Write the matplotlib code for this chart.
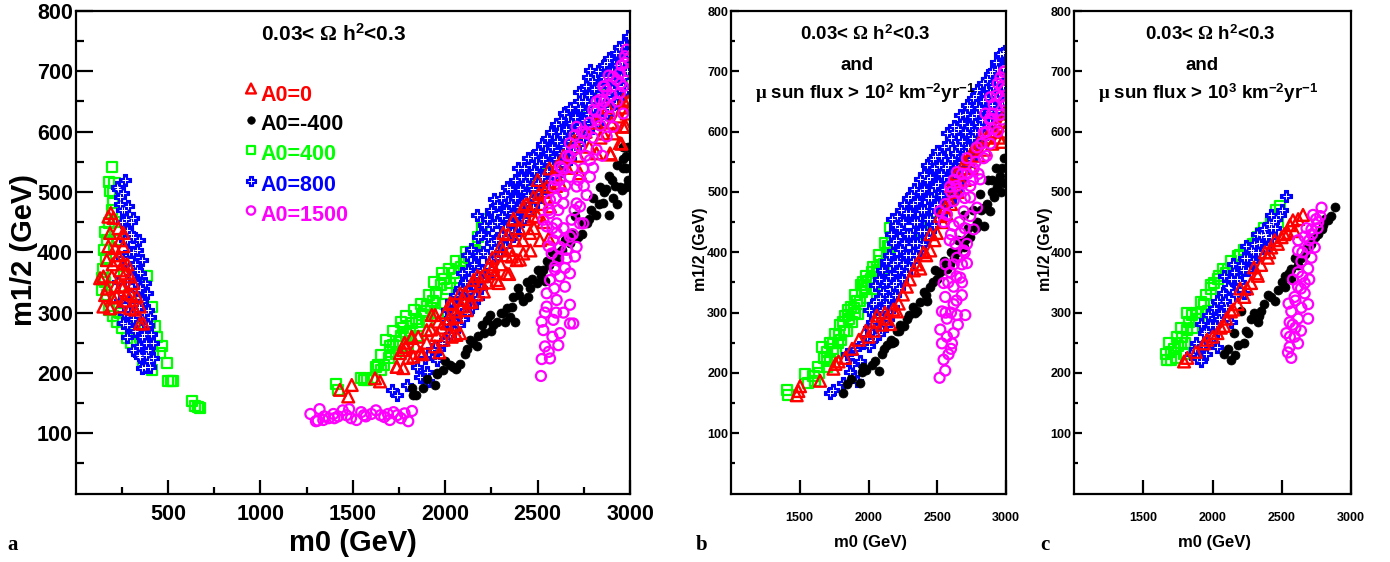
import matplotlib
matplotlib.use("Agg")
import matplotlib.pyplot as plt

plt.rcParams['font.family'] = ['Liberation Sans', 'DejaVu Sans']
plt.rcParams['font.weight'] = 'bold'
plt.rcParams['mathtext.fontset'] = 'custom'
plt.rcParams['mathtext.rm'] = 'Liberation Serif'
plt.rcParams['mathtext.it'] = 'Liberation Serif:italic'
plt.rcParams['mathtext.bf'] = 'Liberation Sans:bold'

# ---------------- data: (m0, m1/2) in GeV ----------------
series_labels = ["A0=0", "A0=-400", "A0=400", "A0=800", "A0=1500"]

a_green = [(195,541),(182,517),(186,501),(204,481),(195,470),(178,448),(159,434),(170,420),(153,404),(165,390),
           (141,357),(141,338),(150,372),(160,350),(170,330),(180,305),(200,295),(222,285),(240,300),(250,275),
           (276,258),(300,250),(330,238),(366,216),(411,205),(465,244),(456,233),(492,216),(384,360),(411,310),
           (402,282),(438,260),(429,277),(420,232),(395,225),(350,260),(320,275),(290,330),(260,360),(230,420),
           (215,450),(200,500),(210,515),(502,187),(515,187),(525,187),(628,154),(644,145),(660,143),(674,142),
           (1407,181),(1418,172),(1544,192),(1560,188),(1579,189),(1602,192),(1625,210),(1636,213),(1655,205),
           (1670,213),(1693,225),(1682,255),(1700,245),(1716,246),(1735,232),(1750,252),(1760,262),(1774,275),
           (1790,265),(1808,269),(1820,282),(1842,290),(1860,285),(1877,296),(1890,303),(1900,311),(1922,308),
           (1935,320),(1950,332),(1991,355),(1975,345),(2010,340),(2026,349),(2045,365),(2060,358),(2083,376),
           (2100,385),(2129,391),(2150,400),(2163,403),(2175,426),(2200,440),(2230,455),(2368,503),(2420,510),
           (2495,525),(2541,548),(2600,565),(2657,592),(2720,618),(2780,632),(2850,660),(2920,690),(2982,714),
           (2986,722),(2970,700),(2954,681),(2990,650),(1800,245),(1850,262),(1900,285),(1960,300),(2000,315),
           (1650,230),(1700,235),(1720,270),(1760,285),(1790,295),(1830,305),(1870,315),(1910,330),(1940,350),
           (1980,365),(2020,372),(2060,385),(2110,400)]

a_blue = [(222,509),(240,492),(258,498),(285,476),(312,457),(276,437),(312,426),(330,404),(357,387),(348,365),
          (375,349),(384,332),(393,304),(402,293),(258,282),(276,260),(312,238),(348,227),(393,238),(420,249),
          (357,208),(402,210),(294,376),(330,338),(250,470),(300,450),(265,420),(290,400),(250,390),(320,380),
          (340,310),(360,290),(300,300),(320,270),(370,265),(380,250),(410,265),(345,245),(240,320),(230,350),
          (280,350),(360,320),(395,220),(375,210),(265,520),(230,505),(300,430),(340,420),(270,455),
          (250,450),(280,420),(310,400),(330,370),(350,340),(370,300),(390,280),(360,260),(340,230),(310,290),
          (290,320),(260,300),(280,280),(380,230),(420,225),(300,360),(320,350),(240,480),(260,470),
          (1710,172),(1737,164),(1795,180),(1845,210),(1900,202),(1908,186),(1863,194),(1954,222),(1930,240),
          (1968,240),(1980,249),(1890,225),
          (2000,255),(2005,285),(2010,305),(2045,270),(2050,300),(2055,330),(2095,290),(2100,320),(2105,350),
          (2090,365),(2145,310),(2150,345),(2155,380),(2140,405),(2170,462),(2195,340),(2200,370),(2205,400),
          (2195,430),(2210,445),(2245,385),(2250,415),(2255,445),(2250,470),(2266,488),(2295,400),(2300,430),
          (2305,460),(2300,490),(2345,420),(2350,450),(2355,480),(2350,505),(2335,509),(2395,445),(2400,475),
          (2405,505),(2392,539),(2410,525),(2445,465),(2450,495),(2455,525),(2449,556),(2495,485),(2500,515),
          (2505,545),(2500,568),(2545,505),(2550,535),(2555,565),(2550,590),(2590,527),(2600,555),(2605,585),
          (2600,613),(2645,545),(2650,575),(2655,605),(2644,631),(2690,568),(2700,595),(2705,625),(2724,651),
          (2745,590),(2750,620),(2755,650),(2760,675),(2782,702),(2793,610),(2800,640),(2805,670),(2793,684),
          (2840,625),(2850,655),(2855,690),(2860,710),(2885,639),(2900,670),(2905,700),(2885,722),(2940,655),
          (2950,690),(2943,740),(2955,715),(2977,669),(2985,700),(2988,758),(2990,730),
          (2025,265),(2030,295),(2030,320),(2075,280),(2075,310),(2080,340),(2120,300),(2125,335),(2125,370),
          (2120,395),(2175,325),(2175,360),(2180,395),(2175,425),(2225,360),(2225,395),(2230,425),(2225,455),
          (2275,390),(2275,420),(2280,450),(2280,478),(2325,410),(2325,440),(2330,470),(2325,495),(2375,430),
          (2375,460),(2380,490),(2375,520),(2425,455),(2425,485),(2430,515),(2425,540),(2475,475),(2475,505),
          (2480,535),(2475,560),(2525,495),(2525,525),(2530,555),(2525,580),(2575,515),(2575,545),(2580,575),
          (2575,600),(2625,535),(2625,565),(2630,595),(2625,620),(2675,555),(2675,585),(2680,615),(2675,640),
          (2725,580),(2725,610),(2730,640),(2725,665),(2775,600),(2775,630),(2780,660),(2775,690),(2825,615),
          (2825,645),(2830,675),(2825,700),(2875,630),(2875,660),(2880,690),(2875,715),(2925,648),(2925,680),
          (2930,710),(2925,730),(2970,690),(2975,720),(2970,745)]

a_red = [(177,459),(204,457),(231,440),(186,432),(177,410),(213,407),(258,410),(168,387),(222,387),(258,382),
         (150,360),(195,360),(267,365),(294,360),(132,357),(213,343),(258,343),(312,349),(159,329),(222,327),
         (276,332),(330,327),(150,310),(186,307),(240,310),(294,307),(348,310),(348,282),(366,282),(258,432),
         (190,465),(240,420),(200,380),(240,370),(280,380),(170,340),(245,345),(300,330),(200,325),(320,305),
         (265,320),(230,395),
         (1430,172),(1494,180),(1475,161),(1620,191),(1647,186),(1737,210),(1773,208),(1755,233),(1773,238),
         (1827,227),(1818,258),(1863,233),(1900,271),(1944,244),(1927,296),(1954,263),(1962,285),(2026,316),
         (2008,282),(2035,260),(2080,266),(2062,293),(2098,321),(2116,304),(2080,332),(2143,318),(2152,354),
         (2197,349),(2251,371),(2278,354),(2332,365),(2360,393),(2260,376),(2350,404),(2314,432),(2422,476),
         (2368,454),(2387,387),(2459,432),(2477,459),(2549,509),(2477,492),(2567,476),(2603,542),(2621,515),
         (2513,420),(2422,398),(2892,564),(2945,581),(2963,608),(2909,597),(2982,630),(2963,653),(2819,564),
         (2729,531),(2855,597),(2977,609),(2954,580),(2896,562),(2560,423),(2461,403),(2404,388),(2346,364),
         (2289,349),(2209,335),(2129,317),(2060,302),(2060,263),(1991,255),(1968,234),(1877,231),(2564,539),
         (2507,497),(2438,480),(2370,456),(2312,403),(2255,391),(2175,361),(2106,332),(2037,314),(1945,296),
         (1923,272),(1854,260),(1819,260),(1785,243),(1739,210),(2640,560),(2700,585),(2760,600),(2820,615),
         (2880,640),(2940,625),(2990,650),
         (2140,345),(2170,330),(2200,360),(2230,350),(2240,380),(2270,365),(2300,380),(2300,410),(2330,395),
         (2340,430),(2380,420),(2400,440),(2420,420),(2440,455),(2460,470),(2480,440),(2500,460),(2520,480),
         (2530,450),(2540,500),(2500,520),(1980,275),(2000,300),(2020,290),(2050,280),(2090,310),(1900,250),
         (1840,245),(1800,225),(1780,250),(2600,510),(2660,540),(2720,560),(2780,575),(2840,590),(2900,615),
         (2960,640)]

a_black = [(1827,163),(1819,175),(1842,163),(1954,200),(1946,180),(1957,198),(2026,213),(2043,210),(2060,207),
           (2080,215),(2106,231),(2134,255),(2152,249),(2180,262),(2209,266),(2224,288),(2243,296),(2280,285),
           (2323,284),(2334,308),(2350,293),(2368,326),(2380,284),(2392,340),(2420,320),(2449,326),(2472,355),
           (2495,349),(2531,371),(2541,352),(2564,379),(2603,387),(2633,403),(2675,415),(2679,432),(2720,425),
           (2747,450),(2766,448),(2790,470),(2816,462),(2839,509),(2855,481),(2885,527),(2885,462),(2910,490),
           (2931,545),(2946,509),(2954,503),(2963,575),(2977,509),(2977,539),(2988,574),(2990,520),(2930,480),
           (2860,500),(2800,490),(2700,460),(2650,420),(2580,400),(2500,370),(2440,350),(2300,300),(2250,270),
           (2170,245),(2000,220),
           (1880,175),(1900,190),(1990,205),(2120,240),(2200,280),(2260,280),(2310,300),(2360,310),(2400,330),
           (2460,340),(2520,360),(2550,385),(2620,400),(2740,430),(2780,455),(2830,480),(2870,505),(2900,520),
           (2920,510),(2960,540),(2980,560),(2960,555)]

a_mag = [(1270,132),(1300,120),(1320,140),(1310,121),(1345,128),(1340,122),(1370,125),(1395,132),(1400,125),
         (1420,128),(1445,138),(1465,130),(1480,140),(1490,125),(1520,122),(1545,135),(1560,130),(1570,128),
         (1600,132),(1625,138),(1650,130),(1670,127),(1690,132),(1700,122),(1720,135),(1740,130),(1760,125),
         (1780,133),(1800,120),(1820,137),
         (2518,195),(2522,223),(2567,224),(2540,244),(2612,246),(2621,266),(2531,271),(2522,285),(2675,282),
         (2693,282),(2585,288),(2549,310),(2603,321),(2675,313),(2549,332),(2648,343),(2567,354),(2621,360),
         (2675,365),(2594,371),(2648,374),(2612,390),(2702,393),(2657,404),(2621,409),(2711,409),(2540,300),
         (2580,260),(2600,300),(2640,300),(2560,235),(2590,340),
         (2675,426),(2729,448),(2585,420),(2567,465),(2639,481),(2711,481),(2594,376),(2657,390),(2576,398),
         (2603,432),(2684,454),(2747,448),(2549,443),(2531,454),(2612,470),(2729,476),(2765,495),(2567,487),
         (2639,498),(2711,509),(2594,520),(2675,525),(2621,542),(2747,539),(2675,559),(2783,553),(2729,575),
         (2819,570),(2675,581),(2765,597),(2874,592),(2711,608),(2819,619),(2909,608),(2801,636),(2891,641),
         (2963,630),(2837,653),(2945,664),(2873,669),(2927,686),(2963,675),(2855,675),(2945,697),(2973,714),
         (2982,736),(2973,725),(2909,691),(2783,525),(2603,448),(2587,509),(2633,539),(2701,594),(2816,633),
         (2862,675),(2885,693),(2954,710),
         (2560,470),(2600,490),(2650,510),(2690,540),(2720,520),(2760,560),(2800,590),(2840,610),(2850,630),
         (2890,625),(2930,650),(2900,660),(2950,680),(2990,700),(2990,720),(2620,520),(2660,560),(2700,570),
         (2740,600),(2780,615),(2820,650),(2860,650),(2580,440),(2640,440),(2700,470),(2750,510),(2800,540),
         (2850,560),(2640,420),(2560,410),(2690,430)]

b_green = [(1405,172),(1417,163),(1539,198),(1563,184),(1612,187),(1636,210),(1697,210),(1660,243),(1697,234),
           (1745,249),(1782,263),(1818,284),(1854,296),(1891,308),(1915,320),(1951,334),(1964,346),(2000,352),
           (2024,367),(2061,376),(2085,385),(2133,397),(2157,408),(2170,426),(1680,225),(1720,222),(1760,235),
           (1800,255),(1840,270),(1880,285),(1925,298),(1990,325),(2040,340),(2100,360),(2449,450),(2522,485),
           (2643,521),(2765,568),(2886,622),(2995,657),(2990,640),(2960,670),(2400,430),(2580,500),(2700,540),
           (2830,600),(2930,640),(2200,440),
           (1740,240),(1780,250),(1820,270),(1860,290),(1900,300),(1940,320),(1980,340),(2020,355),(2060,365),
           (2110,380),(2140,410),(1640,200),(1600,195),(1700,220),
           (1760,265),(1790,280),(1830,295),(1870,310),(1905,330),(1945,345),(1985,360),(2030,375),(2075,395),
           (2120,415),(2160,440),(1720,250),(1850,305),(1960,350),(2080,370)]

b_blue = [(1721,166),(1745,172),(1818,184),(1866,201),(1915,186),(1939,219),(1880,215),(1840,232),(1900,240),
          (1960,250),(2000,245),(2005,275),(2000,305),(2050,260),(2045,290),(2055,320),(2045,345),(2095,272),
          (2100,305),(2105,335),(2095,370),(2145,290),(2150,325),(2155,360),(2150,395),(2170,456),(2165,430),
          (2195,330),(2200,350),(2205,385),(2200,420),(2210,460),(2245,355),(2250,380),(2255,415),(2250,450),
          (2255,480),(2295,375),(2300,395),(2305,430),(2300,465),(2310,495),(2345,395),(2350,415),(2355,450),
          (2350,485),(2376,521),(2395,414),(2400,435),(2405,470),(2400,505),(2425,545),(2445,435),(2450,455),
          (2455,490),(2450,525),(2470,555),(2495,456),(2500,480),(2505,515),(2497,568),(2510,545),(2545,470),
          (2550,505),(2555,540),(2550,575),(2570,598),(2594,485),(2600,520),(2605,555),(2600,590),(2620,610),
          (2645,505),(2650,540),(2655,575),(2650,605),(2667,628),(2692,533),(2700,565),(2705,600),(2716,645),
          (2700,630),(2745,555),(2750,590),(2755,625),(2760,655),(2789,580),(2800,610),(2805,640),(2789,669),
          (2840,595),(2850,625),(2855,655),(2862,687),(2886,616),(2900,645),(2905,675),(2900,700),(2935,635),
          (2950,665),(2935,704),(2959,728),(2983,651),(2990,680),(2995,734),(2990,710),
          (1990,260),(2025,255),(2025,285),(2030,315),(2075,265),(2075,295),(2080,325),(2075,355),(2125,280),
          (2125,315),(2130,350),(2125,385),(2175,310),(2175,345),(2180,380),(2175,415),(2190,445),(2225,340),
          (2225,370),(2230,405),(2225,440),(2235,470),(2275,365),(2275,395),(2280,430),(2275,465),(2285,490),
          (2325,385),(2325,415),(2330,450),(2325,480),(2330,505),(2375,405),(2375,435),(2380,470),(2375,500),
          (2400,530),(2425,425),(2425,455),(2430,490),(2425,520),(2475,445),(2475,475),(2480,510),(2475,540),
          (2485,560),(2525,460),(2525,495),(2530,530),(2525,560),(2575,480),(2575,510),(2580,545),(2575,580),
          (2625,495),(2625,530),(2630,565),(2625,600),(2675,520),(2675,550),(2680,585),(2680,615),(2725,545),
          (2725,575),(2730,610),(2730,640),(2775,570),(2775,600),(2780,630),(2780,660),(2825,590),(2825,620),
          (2830,650),(2830,680),(2875,605),(2875,635),(2880,665),(2880,695),(2925,625),(2925,655),(2930,685),
          (2925,715),(2970,645),(2975,675),(2975,705),(2980,730)]

b_red = [(1478,163),(1502,178),(1490,170),(1648,187),(1745,207),(1782,219),(1760,215),(1830,225),(1880,240),
         (1930,255),(1980,270),(2050,285),(2100,280),(2157,281),(2206,302),(2279,343),(2376,373),(2449,403),
         (2497,432),(2570,462),(2600,480),(2520,460),(2450,430),(2400,400),(2330,370),(2250,330),(2180,305),
         (2120,300),(2000,260),(2040,270),(2650,500),(2700,520),(2750,540),(2800,560),(2850,570),(2900,580),
         (2950,590),(2983,616),(2971,583),(2990,630),(2940,610),(2880,600),(2820,590),(2760,570),(2700,550),
         (2640,530),(2600,510),
         (2060,295),(2130,290),(2220,315),(2300,355),(2350,380),(2420,395),(2480,420),(2540,450),(2560,475),
         (2620,500),(2670,520),(2730,555),(2790,575),(2860,590),(2920,600),(2990,600)]

b_black = [(1818,166),(1842,181),(1939,184),(1951,201),(2024,213),(2073,204),(2097,231),(2133,246),(2182,252),
           (2206,269),(2255,278),(2291,296),(2352,302),(2376,317),(2425,320),(2449,343),(2497,355),(2522,367),
           (2570,373),(2619,391),(2692,408),(2740,426),(2789,450),(2838,444),(2838,474),(2886,468),(2910,491),
           (2935,509),(2959,527),(2983,556),(2983,515),(2813,497),(2692,462),(2760,470),(2720,440),(2650,420),
           (2600,400),(2550,385),(2480,370),(2400,335),(2320,310),(2230,280),(2160,255),(2050,220),(1980,205),
           (2870,520),(2930,540),(2960,500),(2900,500),
           (1870,190),(1960,210),(2110,240),(2170,250),(2220,270),(2280,290),(2340,300),(2420,330),(2470,350),
           (2540,370),(2590,380),(2640,400),(2700,420),(2780,440),(2820,470),(2860,480),(2900,520),(2950,520),
           (2970,540)]

b_mag = [(2517,192),(2558,204),(2546,222),(2582,231),(2534,249),(2607,249),(2570,260),(2619,266),(2522,272),
         (2570,290),(2643,296),(2704,296),(2534,302),(2619,314),(2679,329),(2558,326),(2619,343),(2546,349),
         (2667,358),(2595,367),(2716,382),(2643,391),(2692,403),(2631,414),(2716,414),(2667,432),(2765,438),
         (2619,444),(2570,462),(2692,468),(2789,474),(2619,485),(2740,491),(2594,509),(2692,515),(2813,521),
         (2643,533),(2765,539),(2716,556),(2838,556),(2789,574),(2886,580),(2838,598),(2910,604),(2886,622),
         (2959,628),(2910,645),(2983,651),(2959,657),(2886,657),(2971,675),(2995,645),(2983,699),(2517,468),
         (2546,450),(2600,300),(2650,280),(2560,380),(2680,350),(2590,420),(2700,440),(2660,500),(2760,520),
         (2720,530),(2860,560),(2940,600),(2970,620),
         (2560,480),(2600,500),(2640,510),(2680,530),(2620,520),(2700,490),(2740,510),(2780,550),(2800,530),
         (2820,580),(2860,600),(2880,620),(2850,630),(2900,630),(2930,660),(2960,690),(2990,700),(2990,670),
         (2940,680),(2580,350),(2640,360),(2620,380),(2700,400),(2740,460),(2660,450),(2600,430),(2560,300),
         (2600,240),(2640,320),(2680,380)]

c_green = [(1660,231),(1672,222),(1697,222),(1684,249),(1721,240),(1769,249),(1769,275),(1818,272),(1818,299),
           (1854,296),(1879,299),(1915,317),(1939,314),(1951,329),(1988,340),(2012,349),(2073,373),(2109,373),
           (2133,385),(2182,394),(2230,403),(2291,414),(2352,432),(2425,450),(2449,459),(2485,477),(2473,450),
           (1733,225),(1794,231),(1964,302),(1740,260),(1800,250),(1860,275),(1900,290),(2040,355),(2160,370),
           (2260,400),(2320,420),(2400,440),
           (1700,235),(1750,245),(1780,260),(1830,285),(1880,290),(1920,300),(1990,345),(2050,360),(2100,365),
           (2200,395),(2280,410),(2330,425),(2370,440),(2460,470)]

c_blue = [(1842,231),(1891,225),(1915,219),(1951,231),(1988,249),(2036,243),(2000,260),(1939,266),(1915,281),
          (1964,296),(2012,308),(2036,320),(2073,332),(2109,343),(2133,355),(2158,367),(2206,379),(2230,391),
          (2279,403),(2303,414),(2352,429),(2376,438),(2412,447),(2425,462),(2485,462),(2534,493),(2133,284),
          (2230,332),(2291,385),(2425,426),(1980,280),(2050,290),(2100,310),(2170,330),(2200,350),(2260,370),
          (2330,400),(2400,410),(2450,440),(1880,250),(1950,270),(2080,360),(2150,380),(2240,410),(2320,430),
          (2460,455),(2390,425),
          (1870,240),(1930,245),(1990,265),(2020,280),(2060,300),(2090,320),(2120,340),(2180,355),(2220,370),
          (2250,390),(2290,400),(2340,415),(2380,430),(2440,450),(2500,470),(2420,440)]

c_red = [(1794,219),(1818,225),(2036,266),(2085,278),(2133,302),(2182,314),(2230,326),(2279,349),(2328,361),
         (2352,379),(2400,391),(2425,408),(2473,414),(2546,432),(2582,453),(2594,435),(2655,462),(1939,249),
         (1880,235),(2000,260),(2100,290),(2200,340),(2300,375),(2380,400),(2450,420),(2500,425),
         (1960,255),(2060,275),(2150,305),(2250,340),(2320,365),(2410,400),(2520,430),(2560,445),(2620,455)]

c_black = [(2085,231),(2133,222),(2182,246),(2230,249),(2255,266),(2158,266),(2279,290),(2328,284),(2352,302),
           (2376,314),(2425,326),(2473,337),(2522,343),(2522,361),(2570,355),(2570,373),(2619,379),(2667,397),
           (2716,414),(2740,426),(2789,438),(2838,453),(2886,475),(2813,456),(2206,302),(2110,240),(2300,300),
           (2400,330),(2450,320),(2600,390),(2690,410),(2760,430),
           (2160,230),(2240,270),(2340,295),(2500,350),(2550,365),(2640,390),(2800,445),(2860,460)]

c_mag = [(2570,225),(2546,234),(2558,243),(2534,266),(2594,260),(2619,249),(2558,284),(2619,290),(2692,290),
         (2570,302),(2643,308),(2692,314),(2594,326),(2667,332),(2619,343),(2582,355),(2667,349),(2619,367),
         (2692,373),(2643,385),(2716,391),(2619,403),(2692,408),(2667,426),(2740,408),(2716,438),(2765,450),
         (2789,474),(2728,462),(2600,275),(2640,270),(2550,315),(2650,360),(2700,420),(2750,455),(2680,440),
         (2560,260),(2580,280),(2600,320),(2640,340),(2700,355),(2620,420),(2650,400),(2720,430),(2760,440),
         (2780,460)]

# ---------------- styles ----------------
RED, BLACK, GREEN, BLUE, MAG = '#ff0000', '#000000', '#00ff00', '#0000ff', '#ff00ff'
styles = {
    'green': dict(marker='s', facecolors='none', edgecolors=GREEN, s=52, linewidths=1.6, zorder=2),
    'blue':  dict(marker='P', facecolors=BLUE, edgecolors=BLUE, s=70, linewidths=0.8, zorder=3),
    'black': dict(marker='o', facecolors=BLACK, edgecolors=BLACK, s=42, linewidths=0.5, zorder=4),
    'red':   dict(marker='^', facecolors='none', edgecolors=RED, s=72, linewidths=1.7, zorder=5),
    'mag':   dict(marker='o', facecolors='none', edgecolors=MAG, s=52, linewidths=1.6, zorder=6),
}
blue_inner = dict(marker='+', c='white', s=16, linewidths=0.7, zorder=3.1)

W, H = 1390, 562
fig = plt.figure(figsize=(W / 100, H / 100), dpi=100)

def rect(l, r, t=11.0, b=493.6):
    return [l / W, 1 - b / H, (r - l) / W, (b - t) / H]

ax_a = fig.add_axes(rect(75.7, 630.0))
ax_b = fig.add_axes(rect(731.0, 1006.0))
ax_c = fig.add_axes(rect(1074.3, 1350.7))

def draw(ax, data):
    for key in ['green', 'blue', 'black', 'red', 'mag']:
        pts = data[key]
        xs = [p[0] for p in pts]
        ys = [p[1] for p in pts]
        ax.scatter(xs, ys, **styles[key])
        if key == 'blue':
            ax.scatter(xs, ys, **blue_inner)

draw(ax_a, dict(green=a_green, blue=a_blue, black=a_black, red=a_red, mag=a_mag))
draw(ax_b, dict(green=b_green, blue=b_blue, black=b_black, red=b_red, mag=b_mag))
draw(ax_c, dict(green=c_green, blue=c_blue, black=c_black, red=c_red, mag=c_mag))

def style_axes(ax, xmin, xticks, xminor, ylab_size, xlab_size, ymaj, ymin, xmaj, xmin_len, xpad):
    ax.set_xlim(xmin, 3000)
    ax.set_ylim(0, 800)
    ax.set_xticks(xticks)
    ax.set_xticklabels([str(t) for t in xticks])
    ax.set_xticks(xminor, minor=True)
    yt = [100, 200, 300, 400, 500, 600, 700, 800]
    ax.set_yticks(yt)
    ax.set_yticklabels([str(t) for t in yt])
    ax.set_yticks([50, 150, 250, 350, 450, 550, 650, 750], minor=True)
    for s in ax.spines.values():
        s.set_linewidth(1.6)
        s.set_zorder(20)
    ax.tick_params(axis='y', which='major', direction='in', length=ymaj, width=1.6,
                   labelsize=ylab_size, pad=2)
    ax.tick_params(axis='y', which='minor', direction='in', length=ymin, width=1.6)
    ax.tick_params(axis='x', which='major', direction='in', length=xmaj, width=1.6,
                   labelsize=xlab_size, pad=xpad)
    ax.tick_params(axis='x', which='minor', direction='in', length=xmin_len, width=1.6)
    for lab in ax.get_xticklabels() + ax.get_yticklabels():
        lab.set_fontweight('bold')

style_axes(ax_a, 0, [500, 1000, 1500, 2000, 2500, 3000],
           [250, 750, 1250, 1750, 2250, 2750], 15.5, 15.5, 12, 6, 10, 5, 7.5)
style_axes(ax_b, 1000, [1500, 2000, 2500, 3000], [], 9, 9, 6, 3, 10, 0, 13)
style_axes(ax_c, 1000, [1500, 2000, 2500, 3000], [], 9, 9, 6, 3, 10, 0, 13)

def ftext(x, y, s, **kw):
    fig.text(x / W, 1 - y / H, s, ha=kw.pop('ha', 'center'), va=kw.pop('va', 'center'),
             fontweight='bold', **kw)

title = r"0.03< $\Omega$ h$^{\mathbf{2}}$<0.3"
ftext(333.5, 34, title, fontsize=15)

# legend in panel a
leg = [('red', "A0=0", RED), ('black', "A0=-400", BLACK), ('green', "A0=400", GREEN),
       ('blue', "A0=800", BLUE), ('mag', "A0=1500", MAG)]
text_rows = [95.0, 124.7, 154.7, 185.1, 215.5]
mark_rows = [88.5, 120.1, 149.7, 180.8, 210.5]
lx = (251 - 75.7) / 554.3
for (key, lab, col), ty, my in zip(leg, text_rows, mark_rows):
    st = dict(styles[key])
    st['s'] = st['s'] * 0.7
    st['zorder'] = 10
    ly = (493.6 - my) / 482.6
    ax_a.scatter([lx], [ly], transform=ax_a.transAxes, clip_on=False, **st)
    if key == 'blue':
        bi = dict(blue_inner)
        bi['zorder'] = 10.1
        ax_a.scatter([lx], [ly], transform=ax_a.transAxes, clip_on=False, **bi)
    ftext(260.7, ty, lab, fontsize=15.5, color=col, ha='left')

# panel b / c texts
flux_b = r"$\mathrm{\mu}$ sun flux > 10$^{\mathbf{2}}$ km$^{\mathbf{-2}}$yr$^{\mathbf{-1}}$"
flux_c = r"$\mathrm{\mu}$ sun flux > 10$^{\mathbf{3}}$ km$^{\mathbf{-2}}$yr$^{\mathbf{-1}}$"
ftext(865, 34, title, fontsize=13.5)
ftext(856.7, 66, "and", fontsize=13.5)
ftext(865, 93, flux_b, fontsize=13.5)
ftext(1210, 34, title, fontsize=13.5)
ftext(1201.7, 66, "and", fontsize=13.5)
ftext(1208, 93, flux_c, fontsize=13.5)

# axis labels
ftext(352.6, 543, "m0 (GeV)", fontsize=21)
ftext(24.5, 249.5, "m1/2 (GeV)", fontsize=21, rotation=90)
ftext(870, 542, "m0 (GeV)", fontsize=12)
ftext(700.5, 249, "m1/2 (GeV)", fontsize=11.5, rotation=90)
ftext(1215, 542, "m0 (GeV)", fontsize=12)
ftext(1045.5, 249, "m1/2 (GeV)", fontsize=11.5, rotation=90)

# panel letters
for x, s in [(13, 'a'), (702, 'b'), (1045, 'c')]:
    fig.text(x / W, 1 - 545 / H, s, ha='center', va='center', fontsize=15,
             fontweight='bold', family='Liberation Serif')

fig.savefig("out.png", dpi=100)
